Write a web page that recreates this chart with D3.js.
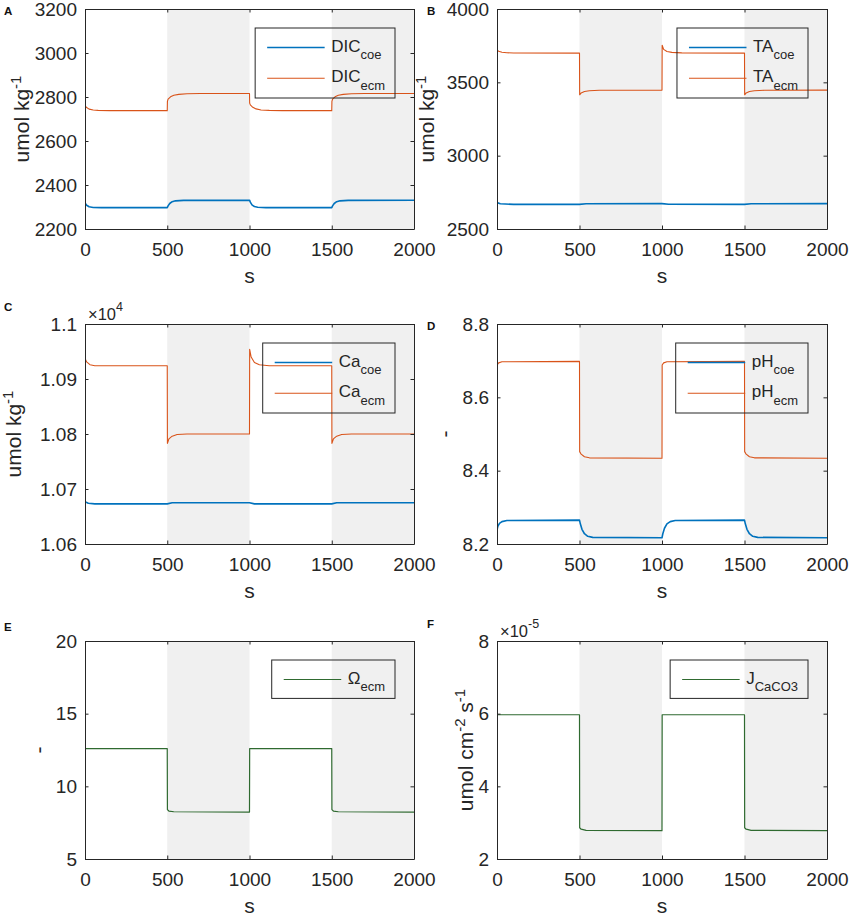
<!DOCTYPE html>
<html><head><meta charset="utf-8">
<script src="https://cdn.jsdelivr.net/npm/d3@7"></script>
<style>body{margin:0;background:#fff}svg{display:block}</style>
</head><body><svg id="c" width="850" height="919"></svg>
<script>
// ---------- data ----------
const xTicks = [0, 500, 1000, 1500, 2000];
const shadedPeriods = [[500, 1000], [1500, 2000]];

const yTicksA = [2200, 2400, 2600, 2800, 3000, 3200];
const yTicksB = [2500, 3000, 3500, 4000];
const yTicksC = [10600, 10700, 10800, 10900, 11000];
const yTicksD = [8.2, 8.4, 8.6, 8.8];
const yTicksE = [5, 10, 15, 20];
const yTicksF = [2e-5, 4e-5, 6e-5, 8e-5];

const dicCoe = [[0,2318],[10,2308],[25,2301],[50,2298],[100,2297],[500,2297],[505,2305],[515,2316],[530,2324],[550,2328],[600,2330],[1000,2331],[1005,2322],[1015,2310],[1030,2302],[1050,2299],[1100,2297],[1500,2297],[1505,2305],[1515,2316],[1530,2324],[1550,2328],[1600,2330],[2000,2331]];
const dicEcm = [[0,2318],[1,2760],[10,2752],[25,2745],[50,2741],[80,2739],[150,2738],[500,2738],[501,2780],[505,2790],[520,2801],[540,2808],[570,2812],[620,2815],[700,2816],[1000,2816],[1001,2772],[1005,2764],[1020,2753],[1040,2746],[1070,2741],[1120,2739],[1200,2738],[1500,2738],[1501,2780],[1505,2790],[1520,2801],[1540,2808],[1570,2812],[1620,2815],[1700,2816],[2000,2816]];

const taCoe = [[0,2680],[20,2672],[100,2668],[500,2668],[540,2672],[1000,2673],[1040,2669],[1500,2668],[1540,2672],[2000,2673]];
const taEcm = [[0,2680],[1,3720],[10,3712],[30,3705],[60,3702],[100,3700],[500,3699],[501,3415],[510,3428],[530,3438],[560,3443],[620,3446],[1000,3447],[1001,3753],[1010,3725],[1030,3710],[1060,3704],[1120,3701],[1500,3699],[1501,3415],[1510,3428],[1530,3438],[1560,3443],[1620,3446],[2000,3447]];

const caCoe = [[0,10677],[20,10674],[60,10673],[500,10673],[530,10675],[1000,10675],[1030,10673],[1500,10673],[1530,10675],[2000,10675]];
const caEcm = [[0,10676],[1,10937],[10,10931],[30,10926],[60,10924],[500,10924],[501,10783],[510,10791],[530,10796],[560,10799],[620,10800],[1000,10800],[1001,10954],[1010,10940],[1030,10930],[1060,10926],[1120,10924],[1500,10924],[1501,10783],[1510,10791],[1530,10796],[1560,10799],[1620,10800],[2000,10800]];

const phCoe = [[0,8.238],[5,8.248],[15,8.256],[30,8.261],[60,8.264],[500,8.265],[505,8.255],[515,8.240],[530,8.228],[550,8.221],[580,8.218],[1000,8.217],[1005,8.228],[1015,8.243],[1030,8.255],[1050,8.261],[1080,8.264],[1500,8.265],[1505,8.255],[1515,8.240],[1530,8.228],[1550,8.221],[1580,8.218],[2000,8.217]];
const phEcm = [[0,8.238],[1,8.688],[10,8.694],[30,8.697],[500,8.698],[501,8.452],[510,8.445],[530,8.438],[560,8.435],[1000,8.434],[1001,8.688],[1010,8.694],[1030,8.697],[1500,8.698],[1501,8.452],[1510,8.445],[1530,8.438],[1560,8.435],[2000,8.434]];

const omegaEcm = [[0,5],[1,12.6],[500,12.6],[501,8.4],[510,8.3],[540,8.25],[1000,8.23],[1001,12.6],[1500,12.6],[1501,8.4],[1510,8.3],[1540,8.25],[2000,8.23]];
const jCaCO3 = [[0,2e-5],[1,5.97e-5],[500,5.97e-5],[501,2.86e-5],[510,2.82e-5],[540,2.79e-5],[1000,2.78e-5],[1001,5.97e-5],[1500,5.97e-5],[1501,2.86e-5],[1510,2.82e-5],[1540,2.79e-5],[2000,2.78e-5]];

// ---------- style ----------
const BLUE = "#0072BD", ORANGE = "#D95319", GREEN = "#2f6a30";
const AX = "#262626", SHADE = "#f0f0f0";
const FONT = "Arial, 'Liberation Sans', Helvetica, sans-serif";

const panels = [
  {tag:"A", left:85, top:9, w:329, h:220, yDomain:[2200,3200], yTicks:yTicksA, fmt:d3.format("d"),
   ylab:[["umol kg",0],["-1",1]], ylabX:28.5,
   series:[{data:dicCoe,color:BLUE,lw:1.6,name:"DIC",sub:"coe"},{data:dicEcm,color:ORANGE,lw:1.1,name:"DIC",sub:"ecm"}]},
  {tag:"B", left:497, top:9, w:330, h:220, yDomain:[2500,4000], yTicks:yTicksB, fmt:d3.format("d"),
   ylab:[["umol kg",0],["-1",1]], ylabX:433.5,
   series:[{data:taCoe,color:BLUE,lw:1.6,name:"TA",sub:"coe"},{data:taEcm,color:ORANGE,lw:1.1,name:"TA",sub:"ecm"}]},
  {tag:"C", left:85, top:324, w:329, h:220, yDomain:[10600,11000], yTicks:yTicksC, fmt:d=>+(d/1e4).toFixed(2),
   exp:"4", ylab:[["umol kg",0],["-1",1]], ylabX:21,
   series:[{data:caCoe,color:BLUE,lw:1.6,name:"Ca",sub:"coe"},{data:caEcm,color:ORANGE,lw:1.1,name:"Ca",sub:"ecm"}]},
  {tag:"D", left:497, top:324, w:330, h:220, yDomain:[8.2,8.8], yTicks:yTicksD, fmt:d3.format(".1f"),
   ylab:[["-",0]], ylabX:452,
   series:[{data:phCoe,color:BLUE,lw:1.6,name:"pH",sub:"coe"},{data:phEcm,color:ORANGE,lw:1.1,name:"pH",sub:"ecm"}]},
  {tag:"E", left:85, top:641, w:329, h:218, yDomain:[5,20], yTicks:yTicksE, fmt:d3.format("d"),
   ylab:[["-",0]], ylabX:46,
   series:[{data:omegaEcm,color:GREEN,lw:1.2,name:"\u03A9",sub:"ecm"}]},
  {tag:"F", left:497, top:641, w:330, h:218, yDomain:[2e-5,8e-5], yTicks:yTicksF, fmt:d=>Math.round(d*1e5),
   exp:"-5", ylab:[["umol cm",0],["-2",1],[" s",0],["-1",1]], ylabX:473,
   series:[{data:jCaCO3,color:GREEN,lw:1.2,name:"J",sub:"CaCO3"}]}
];

const svg = d3.select("#c").style("font-family", FONT);

panels.forEach((p, pi) => {
  const g = svg.append("g");
  const x = d3.scaleLinear().domain([0, 2000]).range([p.left, p.left + p.w]);
  const y = d3.scaleLinear().domain(p.yDomain).range([p.top + p.h, p.top]);

  const clipId = "clip" + pi;
  svg.append("clipPath").attr("id", clipId).append("rect")
    .attr("x", p.left).attr("y", p.top).attr("width", p.w).attr("height", p.h);

  // shaded periods
  g.selectAll("rect.shade").data(shadedPeriods).enter().append("rect")
    .attr("x", d => x(d[0])).attr("y", p.top)
    .attr("width", d => x(d[1]) - x(d[0])).attr("height", p.h)
    .attr("fill", SHADE);

  // lines
  const line = d3.line().x(d => x(d[0])).y(d => y(d[1]));
  const lg = g.append("g").attr("clip-path", `url(#${clipId})`);
  p.series.forEach(s => {
    lg.append("path").attr("d", line(s.data)).attr("fill", "none")
      .attr("stroke", s.color).attr("stroke-width", s.lw).attr("stroke-linejoin", "round");
  });

  // axes (ticks inside, box)
  const tl = 3.5;
  const axB = d3.axisBottom(x).tickValues(xTicks).tickFormat(d3.format("d")).tickSizeInner(-tl).tickSizeOuter(0).tickPadding(13.5);
  const axT = d3.axisTop(x).tickValues(xTicks).tickSizeInner(-tl).tickSizeOuter(0).tickFormat("");
  const axL = d3.axisLeft(y).tickValues(p.yTicks).tickSizeInner(-tl).tickSizeOuter(0).tickPadding(8).tickFormat(p.fmt);
  const axR = d3.axisRight(y).tickValues(p.yTicks).tickSizeInner(-tl).tickSizeOuter(0).tickFormat("");
  const styleAx = sel => {
    sel.select(".domain").attr("stroke", AX).attr("stroke-width", 1);
    sel.selectAll(".tick line").attr("stroke", AX).attr("stroke-width", 1);
    sel.selectAll(".tick text").attr("fill", AX).style("font-size", "19px").style("font-family", FONT);
  };
  g.append("g").attr("transform", `translate(0,${p.top + p.h})`).call(axB).call(styleAx)
    .selectAll(".tick text").attr("dy", "0.72em");
  g.append("g").attr("transform", `translate(0,${p.top})`).call(axT).call(styleAx);
  g.append("g").attr("transform", `translate(${p.left},0)`).call(axL).call(styleAx);
  g.append("g").attr("transform", `translate(${p.left + p.w},0)`).call(axR).call(styleAx);

  // x label
  g.append("text").attr("x", p.left + p.w / 2).attr("y", p.top + p.h + 54)
    .attr("text-anchor", "middle").attr("fill", AX).style("font-size", "21px").text("s");

  // y label
  const yc = p.top + p.h / 2;
  const yt = g.append("text").attr("transform", `translate(${p.ylabX},${yc}) rotate(-90)`)
    .attr("text-anchor", "middle").attr("fill", AX).style("font-size", "21px");
  let prevSup = 0;
  p.ylab.forEach(([t, sup]) => {
    const ts = yt.append("tspan").text(t);
    if (sup) ts.style("font-size", "15px");
    const dy = (sup ? -8 : 0) - (prevSup ? -8 : 0);
    if (dy) ts.attr("dy", dy);
    prevSup = sup;
  });

  // exponent
  if (p.exp) {
    const et = g.append("text").attr("x", p.left + 3).attr("y", p.top - 4.5)
      .attr("fill", AX).style("font-size", "16.5px");
    et.append("tspan").text("\u00D710");
    et.append("tspan").attr("dy", -9).style("font-size", "12.5px").text(p.exp);
  }

  // panel tag
  g.append("text").attr("x", pi % 2 === 0 ? 4 : 427)
    .attr("y", p.top + (p.exp ? -13.5 : (pi >= 4 ? -10.5 : 6)))
    .attr("fill", "#111").style("font-size", "11.5px").style("font-weight", "bold").text(p.tag);

  // legend
  const lgd = g.append("g");
  const rowH = 30.7;
  const texts = [];
  p.series.forEach((s, i) => {
    const t = lgd.append("text").attr("fill", AX).style("font-size", "17px");
    t.append("tspan").text(s.name);
    t.append("tspan").attr("dy", 7.6).style("font-size", "13px").text(s.sub);
    texts.push(t);
  });
  const tw = d3.max(texts, t => t.node().getComputedTextLength());
  const boxW = 76 + tw + 10;
  const boxH = p.series.length === 2 ? 70 : 38.4;
  const bx = p.left + p.w - 19 - boxW, by = p.top + 19;
  lgd.insert("rect", ":first-child").attr("x", bx).attr("y", by).attr("width", boxW).attr("height", boxH)
    .attr("fill", "none").attr("stroke", AX).attr("stroke-width", 1);
  p.series.forEach((s, i) => {
    const cy = by + 19.5 + i * rowH;
    lgd.append("line").attr("x1", bx + 12).attr("x2", bx + 69.5).attr("y1", cy).attr("y2", cy)
      .attr("stroke", s.color).attr("stroke-width", s.lw);
    texts[i].attr("x", bx + 76).attr("y", cy + 4);
  });
});
</script>
</body></html>
